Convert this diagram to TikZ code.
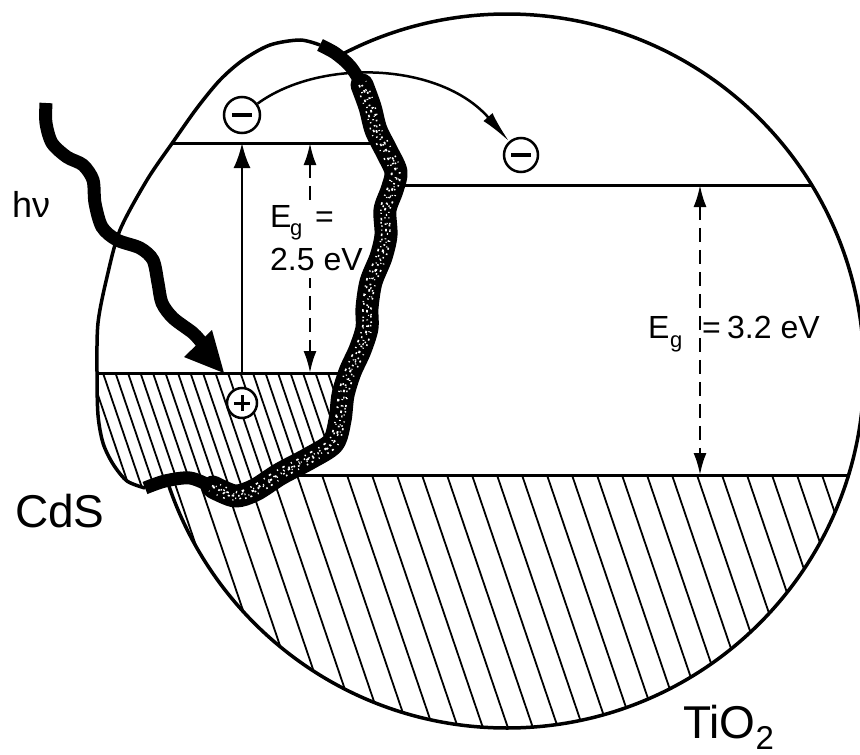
\documentclass[tikz,border=0pt]{standalone}
\usepackage{fontspec}
\setmainfont{Liberation Sans}
\usetikzlibrary{arrows.meta}
\begin{document}
\begin{tikzpicture}[x=1pt,y=-1pt,
  outline/.style={line width=3.5pt},
  level/.style={line width=3pt},
  hatch/.style={line width=1.8pt},
  speck/.style={white, line width=#1},
  gaparrow/.style={line width=2.5pt, dash pattern=on 14pt off 8pt,
     {Latex[length=22pt,width=13pt]}-{Latex[length=22pt,width=13pt]}},
  lbl/.style={anchor=base west, inner sep=0pt, font=\fontsize{32pt}{36pt}\selectfont},
  sub/.style={anchor=base west, inner sep=0pt, font=\fontsize{22pt}{26pt}\selectfont},
  minus/.style={circle, draw, fill=white, line width=2.5pt, minimum size=#1, inner sep=0pt,
     path picture={\draw[line width=3.5pt] ([xshift=-0.28*#1]path picture bounding box.center) -- ([xshift=0.28*#1]path picture bounding box.center);}},
  plus/.style={circle, draw, fill=white, line width=2.5pt, minimum size=#1, inner sep=0pt,
     path picture={\draw[line width=3pt] ([xshift=-0.27*#1]path picture bounding box.center) -- ([xshift=0.27*#1]path picture bounding box.center);
                   \draw[line width=3pt] ([yshift=-0.27*#1]path picture bounding box.center) -- ([yshift=0.27*#1]path picture bounding box.center);}}
]
\def\cdsoutline{plot[smooth] coordinates {(145,488) (127,481) (113,464) (103,443) (98,415) (97,372) (98,323) (107,277) (120,230) (147,180) (173,142) (197,108) (220,80) (243,60) (270,45) (300,40) (320,45)}}
\def\bandfull{plot[smooth] coordinates {(320,45) (335,53) (350,66) (362,85) (370,107) (376,130) (387,152) (396,172) (392,190) (385,210) (386,235) (381,257) (371,282) (367,308) (367,328) (360,350) (350,372) (343,395) (340,420) (333,443) (310,458) (280,474) (255,490) (235,496) (213,487) (190,478) (165,481) (145,488)}}
\def\bandmid{plot[smooth] coordinates {(362,85) (370,107) (376,130) (387,152) (396,172) (392,190) (385,210) (386,235) (381,257) (371,282) (367,308) (367,328) (360,350) (350,372) (343,395) (340,420) (333,443) (310,458) (280,474) (255,490) (235,496) (213,487)}}
\def\cdsshape{plot[smooth] coordinates {(145,488) (127,481) (113,464) (103,443) (98,415) (97,372) (98,323) (107,277) (120,230) (147,180) (173,142) (197,108) (220,80) (243,60) (270,45) (300,40) (320,45)} -- plot[smooth] coordinates {(320,45) (335,53) (350,66) (362,85) (370,107) (376,130) (387,152) (396,172) (392,190) (385,210) (386,235) (381,257) (371,282) (367,308) (367,328) (360,350) (350,372) (343,395) (340,420) (333,443) (310,458) (280,474) (255,490) (235,496) (213,487) (190,478) (165,481) (145,488)} -- cycle}
\useasboundingbox (0,0) rectangle (860,755);
% TiO2 valence band hatching
\begin{scope}
  \clip (507,371) circle[radius=357];
  \clip (0,475) rectangle (870,760);
  \foreach \k in {-20,...,18} \draw[hatch] ({447+25*\k},475) -- ++(102,300);
\end{scope}
\draw[outline] (507,371) circle[radius=357];
\coordinate (tcbL) at (393,185); \coordinate (tcbR) at (811.7,185);
\coordinate (tvbL) at (281,475); \coordinate (tvbR) at (848.5,475);
\draw[level] (tcbL) -- (tcbR);
\draw[level] (tvbL) -- (tvbR);
% CdS particle
\fill[white] \cdsshape;
\begin{scope}
  \clip \cdsshape;
  \begin{scope}
    \clip (0,373) rectangle (420,560);
    \foreach \k in {-12,...,22} \draw[hatch] ({103+12.5*\k},373) -- ++(68,200);
  \end{scope}
  \coordinate (ccbL) at (0,143); \coordinate (ccbR) at (420,143);
  \coordinate (cvbL) at (0,373); \coordinate (cvbR) at (420,373);
  \draw[level] (ccbL) -- (ccbR);
  \draw[level] (cvbL) -- (cvbR);
\end{scope}
\draw[outline] \cdsoutline;
% interface band (speckled)
\draw[line width=13pt, line join=round, line cap=butt] \bandfull;
\draw[line width=23pt, line join=round, line cap=round] \bandmid;
\draw[speck=1.8pt, dash pattern=on 1.5pt off 4pt on 2.5pt off 7pt on 1pt off 5pt] \bandmid;
\begin{scope}[shift={(4,3)}]
  \draw[speck=1.6pt, dash pattern=on 1pt off 6pt on 2pt off 4pt on 1.5pt off 9pt, dash phase=3pt] \bandmid;
\end{scope}
\begin{scope}[shift={(-4,-3)}]
  \draw[speck=1.6pt, dash pattern=on 1.2pt off 7pt on 2.5pt off 5pt, dash phase=5pt] \bandmid;
\end{scope}
\begin{scope}[shift={(-4,4)}]
  \draw[speck=1.4pt, dash pattern=on 1pt off 8pt on 1.8pt off 6pt, dash phase=2pt] \bandmid;
\end{scope}
\begin{scope}[shift={(4,-4)}]
  \draw[speck=1.4pt, dash pattern=on 1.5pt off 5pt on 1pt off 10pt, dash phase=7pt] \bandmid;
\end{scope}
\begin{scope}[shift={(1.5,-1.5)}]
  \draw[speck=1.2pt, dash pattern=on 1pt off 9pt on 2pt off 7pt, dash phase=4pt] \bandmid;
\end{scope}
% charges
\node[minus=36pt] (e1) at (242,115) {};
\node[minus=34pt] (e2) at (521,155) {};
\node[plus=30pt] (h1) at (242,403) {};
\draw[line width=2.5pt, -{Latex[length=32pt,width=12pt]}] (e1) .. controls (320,58) and (440,62) .. (e2);
% excitation arrow
\coordinate (exB) at (242,373); \coordinate (exT) at (242,143);
\draw[line width=2.5pt, -{Latex[length=25pt,width=17pt]}] (exB) -- (exT);
% band gap arrows
\coordinate (g1T) at (310,143); \coordinate (g1B) at (310,373);
\draw[gaparrow] (g1T) -- (g1B);
\coordinate (g2T) at (700,185); \coordinate (g2B) at (700,475);
\draw[gaparrow] (g2T) -- (g2B);
\fill[white] (303,206) rectangle (318,278);
% light arrow
\coordinate (hvA) at (46,103); \coordinate (hvTip) at (224,373);
\draw[line width=13pt] plot[smooth] coordinates {(46,103) (46,123) (52,143) (67,157) (83,165) (93,180) (95,203) (102,227) (117,240) (140,248) (153,260) (158,283) (162,303) (173,318) (193,333) (202,343)};
\fill (hvTip) -- (184,357) -- (212,330) -- cycle;
% labels
\node[lbl] (E1) at (270,227) {E};
\node[sub] (sg1) at (290,235) {g};
\node[lbl] (eq1) at (315,227) {=};
\node[lbl] (v1) at (270,270) {2.5 eV};
\node[lbl] (E2) at (648,338) {E};
\node[sub] (sg2) at (670,347) {g};
\node[lbl] (eq2) at (702,338) {=};
\node[lbl] (v2) at (727,338) {3.2 eV};
\node[anchor=base west, inner sep=0pt, font=\fontsize{36pt}{40pt}\selectfont] (hnu) at (12,217) {hν};
\node[anchor=base west, inner sep=0pt, font=\fontsize{46pt}{50pt}\selectfont] (cds) at (15,527) {CdS};
\node[anchor=base west, inner sep=0pt, font=\fontsize{46pt}{50pt}\selectfont] (tio) at (683,738) {TiO\raisebox{-11pt}{\fontsize{33pt}{36pt}\selectfont 2}};
\end{tikzpicture}
\end{document}
